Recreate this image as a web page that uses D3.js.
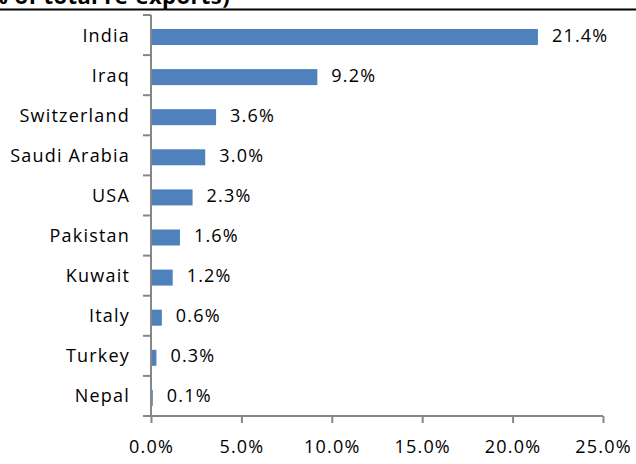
<!DOCTYPE html>
<html>
<head>
<meta charset="utf-8">
<script src="https://cdn.jsdelivr.net/npm/d3@7"></script>
<style>
  html, body { margin: 0; padding: 0; background: #fff; }
  svg { display: block; }
  text { font-family: "Open Sans", sans-serif; fill: #000; }
</style>
</head>
<body>
<svg id="chart" width="636" height="464"></svg>
<script>
const categories = ["India", "Iraq", "Switzerland", "Saudi Arabia", "USA", "Pakistan", "Kuwait", "Italy", "Turkey", "Nepal"];
const values = [21.4, 9.2, 3.6, 3.0, 2.3, 1.6, 1.2, 0.6, 0.3, 0.1];
const xTicks = [0, 5, 10, 15, 20, 25];
const titleText = "(% of total re-exports)";

(function () {
const svg = d3.select("#chart");
const pL = 151, pR = 603, pT = 15, pB = 416;

const x = d3.scaleLinear().domain([0, 25]).range([pL, pR]);
const yb = d3.scaleBand().domain(categories).range([pT, pB]);

// title (cut off at top, as in the source image)
svg.append("text")
  .attr("x", 230).attr("y", 4)
  .attr("text-anchor", "end")
  .style("font-weight", "bold")
  .style("font-size", "22px")
  .style("letter-spacing", "0.4px")
  .text(titleText);
svg.append("line")
  .attr("x1", 0).attr("x2", 636).attr("y1", 9.5).attr("y2", 9.5)
  .attr("stroke", "#000").attr("stroke-width", 2.2);

// bars
svg.selectAll("rect.bar").data(categories).enter().append("rect")
  .attr("class", "bar")
  .attr("x", pL + 1)
  .attr("y", d => yb(d) + 14)
  .attr("width", (d, i) => Math.max(0, x(values[i]) - pL - 1))
  .attr("height", 16)
  .attr("fill", "#4F81BD");

// value labels
svg.selectAll("text.val").data(categories).enter().append("text")
  .attr("class", "val")
  .attr("x", (d, i) => x(values[i]) + 14)
  .attr("y", d => yb(d) + yb.bandwidth() / 2)
  .attr("dy", "0.36em")
  .style("font-size", "18px")
  .style("letter-spacing", "1.2px")
  .text((d, i) => values[i].toFixed(1) + "%");

// y axis
const yAxis = d3.axisLeft(yb).tickSize(0).tickPadding(21);
const gy = svg.append("g").attr("transform", `translate(${pL},0)`).call(yAxis);
gy.select(".domain").remove();
gy.selectAll("text")
  .style("font-family", "'Open Sans', sans-serif")
  .style("font-size", "18px")
  .style("letter-spacing", "1.2px")
  .attr("dy", "0.36em")
  .attr("fill", "#000");

// y boundary ticks
const bounds = categories.map(d => yb(d)).concat([pB]);
svg.selectAll("line.yt").data(bounds).enter().append("line")
  .attr("x1", pL - 8).attr("x2", pL)
  .attr("y1", d => d).attr("y2", d => d)
  .attr("stroke", "#868686").attr("stroke-width", 2);

// x axis
const xAxis = d3.axisBottom(x).tickValues(xTicks).tickSize(7).tickPadding(17)
  .tickFormat(d => d.toFixed(1) + "%");
const gx = svg.append("g").attr("transform", `translate(0,${pB})`).call(xAxis);
gx.select(".domain").attr("stroke", "#868686").attr("stroke-width", 2)
  .attr("d", `M${pL},0H${pR}`);
gx.selectAll(".tick line").attr("stroke", "#868686").attr("stroke-width", 2);
gx.selectAll("text")
  .style("font-family", "'Open Sans', sans-serif")
  .style("font-size", "18px")
  .style("letter-spacing", "1.2px")
  .attr("fill", "#000");

// y axis line
svg.append("line")
  .attr("x1", pL).attr("x2", pL).attr("y1", pT).attr("y2", pB + 1)
  .attr("stroke", "#868686").attr("stroke-width", 2);
})();
</script>
</body>
</html>
